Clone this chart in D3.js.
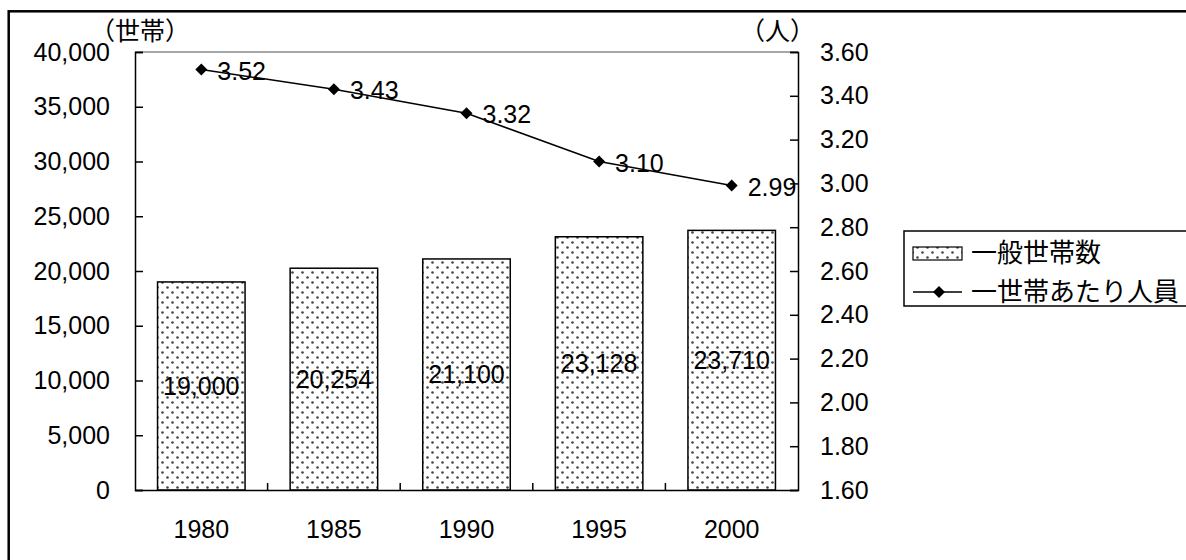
<!DOCTYPE html>
<html><head><meta charset="utf-8">
<script src="https://cdn.jsdelivr.net/npm/d3@7/dist/d3.min.js"></script>
<style>
body{margin:0;background:#fff;}
text{font-family:"Liberation Sans",Arial,sans-serif;fill:#000;}
.jp{font-family:"Noto Sans CJK JP","Noto Sans",sans-serif;}
</style></head>
<body><svg id="c" width="1186" height="560"></svg>
<script>
const years = ["1980","1985","1990","1995","2000"];
const households = [19000, 20254, 21100, 23128, 23710];
const perHousehold = [3.52, 3.43, 3.32, 3.10, 2.99];
const leftTicks = [0,5000,10000,15000,20000,25000,30000,35000,40000];
const rightTicks = [1.6,1.8,2.0,2.2,2.4,2.6,2.8,3.0,3.2,3.4,3.6];
const seriesNames = ["一般世帯数","一世帯あたり人員"];
const unitLeft = "（世帯）", unitRight = "（人）";

const svg = d3.select("#c");
const defs = svg.append("defs");
const pat = defs.append("pattern").attr("id","dots").attr("patternUnits","userSpaceOnUse")
  .attr("width",10).attr("height",10);
pat.append("rect").attr("width",10).attr("height",10).attr("fill","#fff");
pat.append("circle").attr("cx",2.5).attr("cy",2.5).attr("r",1.3).attr("fill","#444");
pat.append("circle").attr("cx",7.5).attr("cy",7.5).attr("r",1.3).attr("fill","#444");

// outer chart border (cut off at right/bottom)
svg.append("rect").attr("x",8.7).attr("y",11.3).attr("width",1300).attr("height",700)
  .attr("fill","none").attr("stroke","#000").attr("stroke-width",2.5);

const L=135, R=798, T=52, B=490;
const x = d3.scaleBand().domain(years).range([L,R]).paddingInner(0.34).paddingOuter(0.17);
const yL = d3.scaleLinear().domain([0,40000]).range([B,T]);
const yR = d3.scaleLinear().domain([1.6,3.6]).range([B,T]);

svg.append("line").attr("x1",L).attr("x2",R).attr("y1",T).attr("y2",T).attr("stroke","#888").attr("stroke-width",1.5);

// bars
svg.selectAll("rect.bar").data(households).join("rect").attr("class","bar")
  .attr("x",(d,i)=>x(years[i])).attr("width",x.bandwidth())
  .attr("y",d=>yL(d)).attr("height",d=>B-yL(d))
  .attr("fill","url(#dots)").attr("stroke","#000").attr("stroke-width",1.5);

const fmt = d3.format(",");
svg.selectAll("text.bl").data(households).join("text").attr("class","bl")
  .attr("x",(d,i)=>x(years[i])+x.bandwidth()/2).attr("y",d=>(yL(d)+B)/2)
  .attr("dy","0.36em").attr("text-anchor","middle").attr("font-size",25).text(d=>fmt(d));

const gL = svg.append("g").attr("transform",`translate(${L},0)`)
  .call(d3.axisLeft(yL).tickValues(leftTicks).tickSize(-8).tickPadding(25).tickFormat(d3.format(",")));
const gR = svg.append("g").attr("transform",`translate(${R},0)`)
  .call(d3.axisRight(yR).tickValues(rightTicks).tickSize(-8).tickPadding(22).tickFormat(d3.format(".2f")));
[gL,gR].forEach(g=>{
  g.select(".domain").attr("stroke","#000").attr("stroke-width",1.5);
  g.selectAll(".tick line").attr("stroke","#000").attr("stroke-width",1.5);
  g.selectAll(".tick text").attr("font-size",25).attr("font-family","Liberation Sans, Arial, sans-serif").attr("fill","#000");
});

const gX = svg.append("g").attr("transform",`translate(0,${B})`)
  .call(d3.axisBottom(x).tickSize(0).tickPadding(30));
gX.select(".domain").attr("stroke","#000").attr("stroke-width",1.5);
gX.selectAll(".tick text").attr("font-size",25).attr("font-family","Liberation Sans, Arial, sans-serif").attr("fill","#000");
const bounds = years.slice(1).map(d=>x(d)-x.step()*x.paddingInner()/2);
svg.selectAll("line.xt").data(bounds).join("line").attr("class","xt")
  .attr("x1",d=>d).attr("x2",d=>d).attr("y1",B).attr("y2",B-7).attr("stroke","#000").attr("stroke-width",1.5);

// line
const cx = (i)=>x(years[i])+x.bandwidth()/2;
const line = d3.line().x((d,i)=>cx(i)).y(d=>yR(d));
svg.append("path").datum(perHousehold).attr("d",line).attr("fill","none").attr("stroke","#000").attr("stroke-width",1.5);
const diamond = d3.symbol().type(d3.symbolSquare).size(72);
svg.selectAll("path.mk").data(perHousehold).join("path").attr("class","mk")
  .attr("d",diamond).attr("transform",(d,i)=>`translate(${cx(i)},${yR(d)}) rotate(45)`).attr("fill","#000");
svg.selectAll("text.ll").data(perHousehold).join("text").attr("class","ll")
  .attr("x",(d,i)=>cx(i)+16).attr("y",d=>yR(d)+1).attr("dy","0.36em")
  .attr("font-size",25).text(d=>d.toFixed(2));

// units
svg.append("text").attr("class","jp").attr("x",90).attr("y",40).attr("font-size",25).text(unitLeft);
svg.append("text").attr("class","jp").attr("x",815).attr("y",40).attr("text-anchor","end").attr("font-size",25).text(unitRight);

// legend
svg.append("rect").attr("x",904).attr("y",231).attr("width",400).attr("height",75)
  .attr("fill","#fff").attr("stroke","#000").attr("stroke-width",1.5);
svg.append("rect").attr("x",913).attr("y",247).attr("width",49).attr("height",13)
  .attr("fill","url(#dots)").attr("stroke","#000").attr("stroke-width",1.2);
svg.append("line").attr("x1",913).attr("x2",962).attr("y1",292).attr("y2",292).attr("stroke","#000").attr("stroke-width",1.5);
svg.append("path").attr("d",diamond).attr("transform","translate(939,292) rotate(45)").attr("fill","#000");
svg.selectAll("text.lg").data(seriesNames).join("text").attr("class","lg jp")
  .attr("x",971).attr("y",(d,i)=>i===0?253:292).attr("dy","0.36em").attr("font-size",26).text(d=>d);
</script></body></html>
